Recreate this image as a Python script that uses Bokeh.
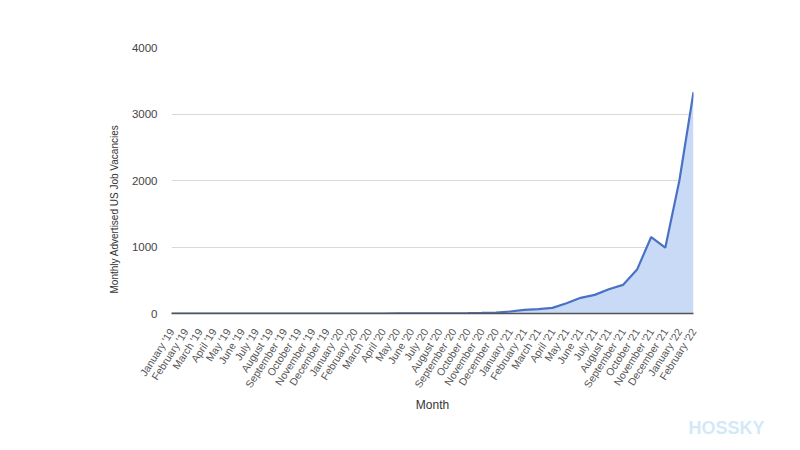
import math
from bokeh.plotting import figure
from bokeh.models import Range1d, FixedTicker, ColumnDataSource, Title
from bokeh.embed import file_html
from bokeh.resources import INLINE

months = [
    "January '19", "February '19", "March '19", "April '19", "May '19", "June '19",
    "July '19", "August '19", "September '19", "October '19", "November '19", "December '19",
    "January '20", "February '20", "March '20", "April '20", "May '20", "June '20",
    "July '20", "August '20", "September '20", "October '20", "November '20", "December '20",
    "January '21", "February '21", "March '21", "April '21", "May '21", "June '21",
    "July '21", "August '21", "September '21", "October '21", "November '21", "December '21",
    "January '22", "February '22",
]
vacancies = [
    0, 0, 0, 0, 0, 0, 0, 0, 0, 0, 0, 0,
    0, 0, 0, 0, 1, 1, 2, 2, 3, 5, 8, 12,
    30, 55, 65, 85, 155, 236, 280, 365, 430, 660, 1150, 990,
    2000, 3330,
]
y_ticks = [0, 1000, 2000, 3000, 4000]

FONT = "Liberation Sans"

xs = list(range(len(months)))
src = ColumnDataSource(dict(x=xs, y=vacancies))

p = figure(width=784, height=440, output_backend="svg", toolbar_location=None,
           x_range=Range1d(0, len(months) - 1), y_range=Range1d(0, 4000),
           min_border_left=171, min_border_right=91, min_border_top=47,
           min_border_bottom=127)
p.outline_line_color = None
p.background_fill_color = "white"
p.border_fill_color = "white"

p.varea(x="x", y1=0, y2="y", source=src, fill_color="#c9daf6", fill_alpha=1.0)
p.line("x", "y", source=src, line_color="#4a72c4", line_width=2.2)

# x axis
xa = p.xaxis[0]
xa.ticker = FixedTicker(ticks=xs)
xa.major_label_overrides = {i: m for i, m in enumerate(months)}
xa.major_label_orientation = 1.0
xa.major_label_text_font = FONT
xa.major_label_text_font_size = "10.5px"
xa.major_label_text_color = "#555555"
xa.major_label_standoff = 10
xa.major_tick_line_color = None
xa.minor_tick_line_color = None
xa.axis_line_color = "#555555"
xa.axis_line_width = 1.5
xa.axis_label = "Month"
xa.axis_label_text_font = FONT
xa.axis_label_text_font_style = "normal"
xa.axis_label_text_font_size = "12px"
xa.axis_label_text_color = "#333333"
xa.axis_label_standoff = 2

# y axis
ya = p.yaxis[0]
ya.ticker = FixedTicker(ticks=y_ticks)
ya.major_label_text_font = FONT
ya.major_label_text_font_size = "11.5px"
ya.major_label_text_color = "#444444"
ya.major_label_standoff = 8
ya.major_tick_line_color = None
ya.minor_tick_line_color = None
ya.axis_line_color = None

p.xgrid.grid_line_color = None
p.ygrid.grid_line_color = "#d9d9d9"
p.ygrid.grid_line_width = 1

ytitle = Title(text="Monthly Advertised US Job Vacancies", align="left",
               offset=20, standoff=18, text_font=FONT, text_font_style="normal",
               text_font_size="10px", text_color="#333333")
p.add_layout(ytitle, "left")

wm = Title(text="HOSSKY", align="left", offset=517, standoff=1, text_font=FONT,
           text_font_style="bold", text_font_size="18px", text_color="#d3e9f8")
p.add_layout(wm, "below")

open("out.html", "w").write(file_html(p, INLINE))
